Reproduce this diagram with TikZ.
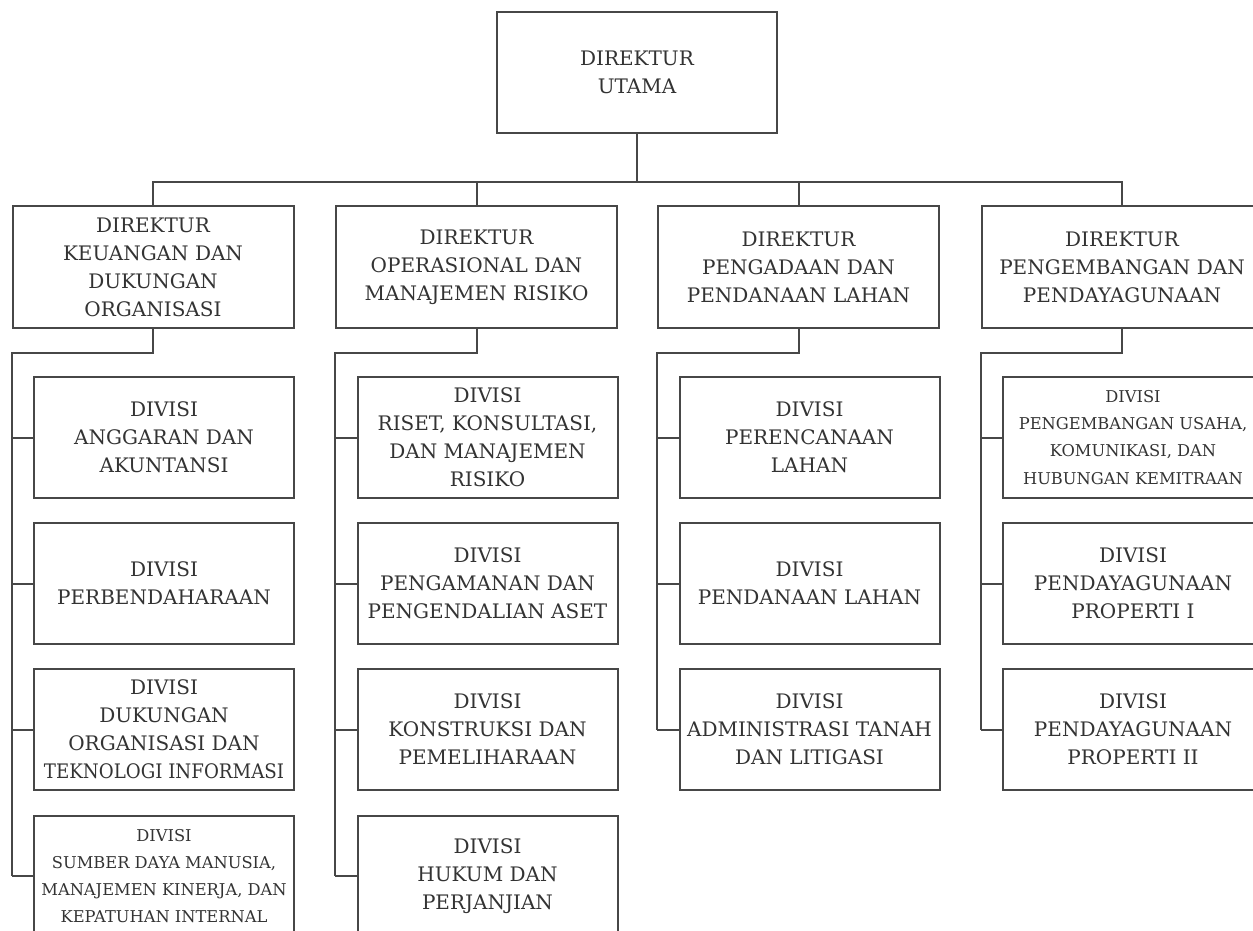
\documentclass[tikz,border=0pt]{standalone}
\usepackage{fontspec}
\usepackage{graphicx}
\setmainfont{DejaVu Serif}
\usetikzlibrary{calc}
\begin{document}
\begin{tikzpicture}[x=0.75pt,y=-0.75pt,
  box/.style={draw=black!72,line width=1.5pt,rectangle,inner sep=0pt,align=center,
    text=black!80,font=\fontsize{15}{21}\selectfont,minimum height=90.75pt},
  topbox/.style={box,minimum width=210pt},
  dirbox/.style={box,minimum width=210.75pt,minimum height=91.5pt},
  divbox/.style={box,minimum width=195pt},
  small/.style={font=\fontsize{12.2}{20.3}\selectfont},
  conn/.style={draw=black!72,line width=1.5pt}]
\useasboundingbox (0,0) rectangle (1253,931);
\clip (0,0) rectangle (1253,931);
% top
\node[topbox] (top) at (637,72.5) {DIREKTUR\\UTAMA};
% directors
\node[dirbox] (d1) at (153,267) {DIREKTUR\\KEUANGAN DAN\\DUKUNGAN\\ORGANISASI};
\node[dirbox] (d2) at (476.5,267) {DIREKTUR\\OPERASIONAL DAN\\MANAJEMEN RISIKO};
\node[dirbox] (d3) at (798.5,267) {DIREKTUR\\PENGADAAN DAN\\PENDANAAN LAHAN};
\node[dirbox] (d4) at (1122,267) {DIREKTUR\\PENGEMBANGAN DAN\\PENDAYAGUNAAN};
% column 1
\node[divbox] (a1) at (164,437.5) {DIVISI\\ANGGARAN DAN\\AKUNTANSI};
\node[divbox] (a2) at (164,583.5) {DIVISI\\PERBENDAHARAAN};
\node[divbox] (a3) at (164,729.5) {DIVISI\\DUKUNGAN\\ORGANISASI DAN\\\scalebox{0.91}[1]{TEKNOLOGI INFORMASI}};
\node[divbox,small] (a4) at (164,876) {DIVISI\\SUMBER DAYA MANUSIA,\\MANAJEMEN KINERJA, DAN\\KEPATUHAN INTERNAL};
% column 2
\node[divbox] (b1) at (487.5,437.5) {DIVISI\\RISET, KONSULTASI,\\DAN MANAJEMEN\\RISIKO};
\node[divbox] (b2) at (487.5,583.5) {DIVISI\\PENGAMANAN DAN\\PENGENDALIAN ASET};
\node[divbox] (b3) at (487.5,729.5) {DIVISI\\KONSTRUKSI DAN\\PEMELIHARAAN};
\node[divbox] (b4) at (487.5,876) {DIVISI\\HUKUM DAN\\PERJANJIAN};
% column 3
\node[divbox] (c1) at (809.5,437.5) {DIVISI\\PERENCANAAN\\LAHAN};
\node[divbox] (c2) at (809.5,583.5) {DIVISI\\PENDANAAN LAHAN};
\node[divbox] (c3) at (809.5,729.5) {DIVISI\\ADMINISTRASI TANAH\\DAN LITIGASI};
% column 4
\node[divbox,small] (e1) at (1133,437.5) {DIVISI\\PENGEMBANGAN USAHA,\\KOMUNIKASI, DAN\\HUBUNGAN KEMITRAAN};
\node[divbox] (e2) at (1133,583.5) {DIVISI\\PENDAYAGUNAAN\\PROPERTI I};
\node[divbox] (e3) at (1133,729.5) {DIVISI\\PENDAYAGUNAAN\\PROPERTI II};
% top-level connectors
\coordinate (bus) at (637,182);
\draw[conn] (top.south) -- (bus);
\draw[conn] (d1.north) |- (bus) -| (d4.north);
\draw[conn] (d2.north) -- (d2.north |- bus);
\draw[conn] (d3.north) -- (d3.north |- bus);
% column connectors
\coordinate (k1) at ($(d1.south west)+(0,24)$);
\coordinate (k2) at ($(d2.south west)+(0,24)$);
\coordinate (k3) at ($(d3.south west)+(0,24)$);
\coordinate (k4) at ($(d4.south west)+(0,24)$);
\draw[conn] (d1.south) |- (k1) -- (k1 |- a4.west);
\draw[conn] (d2.south) |- (k2) -- (k2 |- b4.west);
\draw[conn] (d3.south) |- (k3) -- (k3 |- c3.west);
\draw[conn] (d4.south) |- (k4) -- (k4 |- e3.west);
\foreach \n in {a1,a2,a3,a4} \draw[conn] (k1 |- \n.west) -- (\n.west);
\foreach \n in {b1,b2,b3,b4} \draw[conn] (k2 |- \n.west) -- (\n.west);
\foreach \n in {c1,c2,c3} \draw[conn] (k3 |- \n.west) -- (\n.west);
\foreach \n in {e1,e2,e3} \draw[conn] (k4 |- \n.west) -- (\n.west);
\end{tikzpicture}
\end{document}
